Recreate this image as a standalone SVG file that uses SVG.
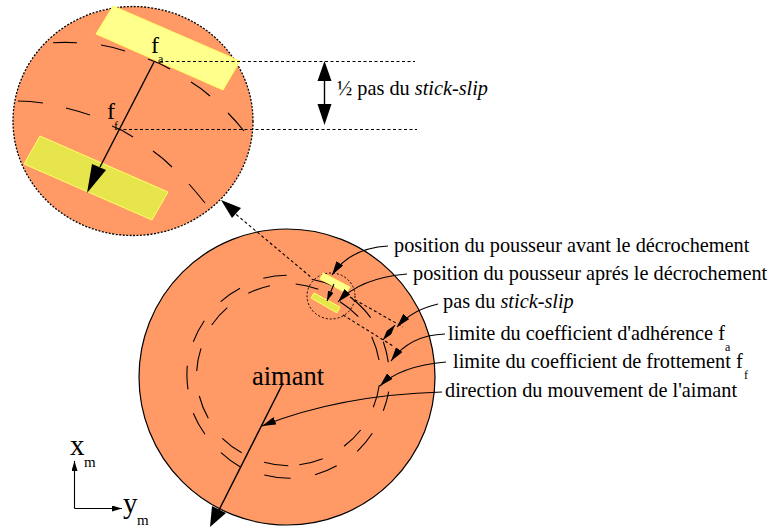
<svg xmlns="http://www.w3.org/2000/svg" width="768" height="529" viewBox="0 0 768 529">
<style>
text{font-family:"Liberation Serif","Times New Roman",serif;fill:#000}
.t{font-size:20.300px}
.s{font-size:12px}
.l{fill:none;stroke:#000;stroke-width:1.400}
.d{fill:none;stroke:#000;stroke-width:1.100}
.k{fill:none;stroke:#000;stroke-width:1.100;stroke-dasharray:3 2.500}
.h{fill:#000;stroke:none}
</style>
<defs>
<marker id="a" viewBox="0 0 14 8" refX="14" refY="4" markerWidth="14" markerHeight="8" markerUnits="userSpaceOnUse" orient="auto-start-reverse"><path d="M0 0L14 4L0 8Z" fill="#000"/></marker>
<marker id="b" viewBox="0 0 10 6" refX="10" refY="3" markerWidth="10" markerHeight="6" markerUnits="userSpaceOnUse" orient="auto-start-reverse"><path d="M0 0L10 3L0 6Z" fill="#000"/></marker>
</defs>
<g id="magnifier">
<ellipse cx="133" cy="121" rx="120" ry="114.500" fill="#ff9966" stroke="#000" stroke-width="1.300" stroke-dasharray="2 1.500"/>
<path d="M113 6L240 61L223 90L96 34Z" fill="#ffff8c" stroke="#ffff66"/>
<path d="M40 136L168 192L152 220L24 164Z" fill="#e6e64c" stroke="#ffff66"/>
<path class="d" d="M53 42.700Q65 42 77 42.700M101 45Q113 47 125 51M148 59Q160 63 170 69M191 82Q201 88 210 96M228 113Q236 121 244 131M18 101Q30 101 43 103M66 108Q78 111 90 115M112 126Q123 130 133 137M153 151Q163 158 172 167M189 184Q197 193 205 203"/>
<path class="l" d="M154 62L100 167"/>
<path class="h" d="M92 164L106 170L87 193Z"/>
<text x="151" y="53" font-size="24">f</text><text x="158" y="63" class="s">a</text>
<text x="107" y="119" font-size="24">f</text><text x="114" y="130" class="s">f</text>
</g>
<g id="half-step">
<path class="k" d="M160 61.500H415M118 129.500H417"/>
<path class="l" d="M324.500 78V108"/>
<path class="h" d="M324.500 61L317.500 81H331.500ZM324.500 125L317.500 104H331.500Z"/>
<text x="337" y="95" class="t">½ pas du <tspan font-style="italic">stick-slip</tspan></text>
</g>
<g id="magnet">
<circle cx="287" cy="377" r="148" fill="#ff9966" stroke="#000" stroke-width="1.200"/>
<path class="d" d="M263.300 278.300A101 101 0 0 1 286.700 275.300M220.700 301.700A101 101 0 0 1 240 288.300M193.300 341.700A101 101 0 0 1 204.300 320.700M187.300 365.700A101 101 0 0 0 188 389.300M193.300 413.300A101 101 0 0 0 205 434.300M221 452.700A101 101 0 0 0 240 466.700M264.300 475A101 101 0 0 0 290.700 478.300M315 474.700A101 101 0 0 0 336.700 465.700M357.300 451.300A101 101 0 0 0 372.300 433.300M383.300 410.700A101 101 0 0 0 388.700 391.700M383.300 341.700A101 101 0 0 1 388.300 362.300M351.700 298.300A101 101 0 0 1 370.700 317.700M311.700 279.300A101 101 0 0 1 335 286.700"/>
<path class="d" d="M248.300 293.300A91 91 0 0 1 270 285.700M211.700 325A91 91 0 0 1 227.300 307.700M196.700 371A91 91 0 0 1 201 348.300M199.300 396A91 91 0 0 0 208.300 418.300M222.300 438.300A91 91 0 0 0 241.700 452.700M264 462.300A91 91 0 0 0 288.300 465.700M299.300 464.700A91 91 0 0 0 322.700 458.700M344 446.300A91 91 0 0 0 360.700 430M373.300 407.300A91 91 0 0 0 379.300 385M371.700 336.700A91 91 0 0 1 379 360M340 301.700A91 91 0 0 1 358.300 316.700M295.700 284A91 91 0 0 1 318.300 289.300"/>
</g>
<g id="pusher">
<ellipse cx="331" cy="296" rx="24" ry="23" fill="none" stroke="#000" stroke-dasharray="2 2"/>
<path d="M323 273L350 287L346 293L320 279Z" fill="#ffff8c" stroke="#ffff66"/>
<path d="M314 293L340 307L337 313L311 298Z" fill="#e6e64c" stroke="#ffff66"/>
<path class="d" d="M334 284L327 301" marker-end="url(#b)"/>
</g>
<g id="connectors">
<path class="k" d="M232 211L312 278M350 297L403 327M343 315L393 346"/>
<path class="h" d="M221 200L241 208L232 218Z"/>
<path class="l" d="M283 383L214 520"/>
<path class="h" d="M212 506L226 513L210 527Z"/>
<path class="d" d="M388 246Q350 248 332 275" marker-end="url(#a)"/>
<path class="d" d="M407 274Q360 278 338 302" marker-end="url(#a)"/>
<path class="d" d="M438 304Q412 310 397 327" marker-end="url(#a)"/>
<path class="d" d="M395 325L383 340" marker-start="url(#b)" marker-end="url(#b)"/>
<path class="d" d="M445 334Q410 335 391 361" marker-end="url(#a)"/>
<path class="d" d="M446 362Q400 366 380 386" marker-end="url(#a)"/>
<path class="d" d="M442 392Q340 395 262 426" marker-end="url(#a)"/>
</g>
<g id="labels">
<text x="394" y="252" class="t">position du pousseur avant le décrochement</text>
<text x="413" y="280" class="t">position du pousseur aprés le décrochement</text>
<text x="443" y="308" class="t">pas du <tspan font-style="italic">stick-slip</tspan></text>
<text x="448" y="340" class="t">limite du coefficient d'adhérence f</text><text x="725" y="351" class="s">a</text>
<text x="453" y="368" class="t">limite du coefficient de frottement f</text><text x="744" y="379" class="s">f</text>
<text x="445" y="397" class="t">direction du mouvement de l'aimant</text>
<text x="252" y="385" font-size="26.500">aimant</text>
</g>
<g id="axes">
<path class="d" d="M74.500 508.500V461" marker-end="url(#b)"/>
<path class="d" d="M74.500 508.500H122" marker-end="url(#b)"/>
<text x="70" y="455" font-size="29">x</text><text x="84" y="467" font-size="15">m</text>
<text x="123" y="513" font-size="29">y</text><text x="137" y="525" font-size="15">m</text>
</g>
</svg>
